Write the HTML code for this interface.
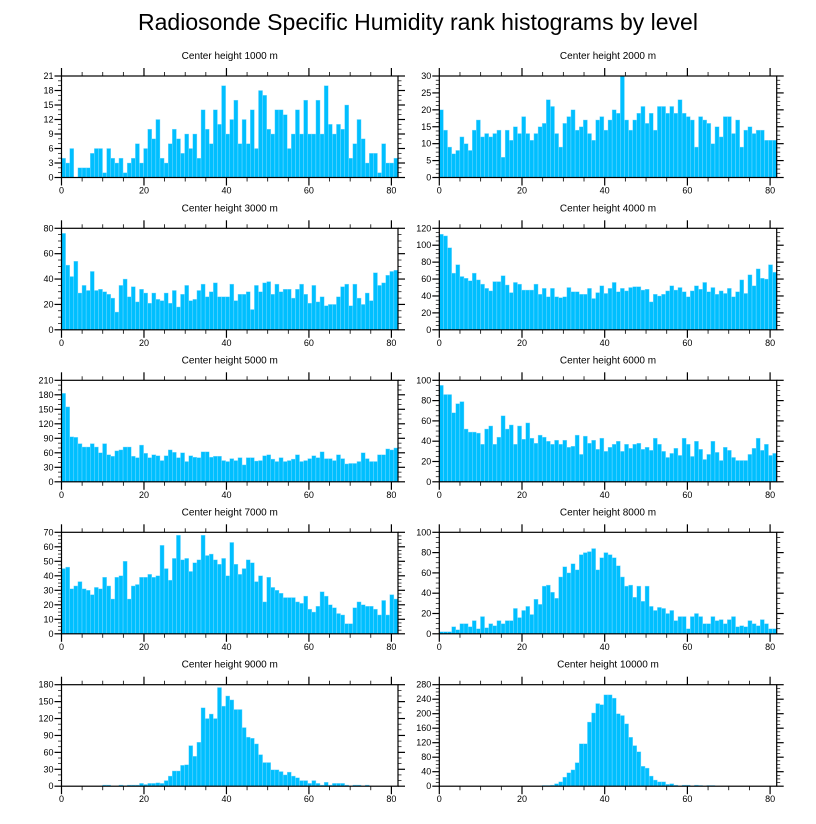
<!DOCTYPE html>
<html><head><meta charset="utf-8"><style>
html,body{margin:0;padding:0;background:#fff;}
svg{display:block;font-family:"Liberation Sans",Arial,sans-serif;}
</style></head><body>
<svg id="chart" width="816" height="824" viewBox="0 0 816 824" xmlns="http://www.w3.org/2000/svg">
<text x="418" y="30" font-size="23" text-anchor="middle" fill="#000">Radiosonde Specific Humidity rank histograms by level</text>
</svg>
<script>
const panelTitles = ["Center height 1000 m","Center height 2000 m","Center height 3000 m","Center height 4000 m","Center height 5000 m","Center height 6000 m","Center height 7000 m","Center height 8000 m","Center height 9000 m","Center height 10000 m"];
const yMaxes = [21,30,80,120,210,100,70,100,180,280];
const yStepValues = [3,5,20,20,30,20,10,20,30,40];
const xTickLabels = [0,20,40,60,80];
const h1000 = [4,3,6,0,2,2,2,5,6,6,1,6,4,3,4,1,3,4,7,3,6,10,8,12,4,3,7,10,8,5,9,6,9,4,14,10,7,14,11,19,9,12,16,7,12,7,14,6,18,17,10,9,14,14,13,6,9,14,9,16,9,9,16,9,19,11,9,11,10,15,4,7,12,8,3,5,5,1,7,3,3,4];
const h2000 = [20,14,9,7,8,12,10,8,14,17,12,13,12,13,14,6,14,11,15,13,18,13,11,13,15,16,23,21,13,9,16,18,20,14,15,17,13,11,17,18,14,17,20,19,30,17,14,17,19,21,16,19,14,21,21,19,21,19,23,19,18,17,9,18,17,16,10,15,12,18,18,13,17,9,14,15,13,14,14,11,11,11];
const h3000 = [76,51,42,54,29,35,31,46,31,32,30,28,25,14,35,40,26,34,22,32,29,21,29,24,23,29,21,31,18,28,35,23,24,31,36,26,30,37,26,26,26,36,23,28,28,30,16,35,30,37,38,28,36,30,32,32,25,32,36,28,21,35,22,26,19,20,20,26,34,36,19,36,25,20,29,23,45,35,37,43,46,47];
const h4000 = [113,111,97,67,77,63,61,58,67,59,54,49,46,57,57,64,53,44,56,54,47,47,47,54,42,49,39,49,39,38,39,50,45,45,42,42,49,37,44,52,43,49,56,45,49,46,50,51,51,47,48,33,42,40,42,46,52,47,50,45,39,46,52,48,56,45,50,42,46,43,49,39,45,59,43,65,52,72,61,60,77,68];
const h5000 = [183,155,93,92,79,72,72,79,72,60,79,56,53,64,66,72,72,53,50,76,59,50,56,54,44,54,66,61,50,60,42,54,51,50,62,62,51,53,53,44,42,48,44,50,35,50,50,43,44,54,56,47,42,50,42,44,47,56,42,44,48,54,50,62,48,48,44,56,48,37,38,38,42,60,48,42,42,56,56,68,66,70];
const h6000 = [95,86,86,68,77,79,52,49,49,48,37,52,55,37,44,65,52,56,37,55,42,58,43,38,46,44,40,37,41,37,41,34,35,46,27,45,38,41,32,43,30,34,37,40,30,37,33,37,38,32,34,31,43,37,30,24,28,33,26,43,37,25,40,32,22,27,40,29,21,34,31,24,21,21,21,27,33,43,31,37,26,28];
const h7000 = [45,46,31,33,36,31,30,27,32,31,39,33,24,39,40,50,24,33,34,39,39,41,39,40,61,45,37,52,68,51,52,43,49,51,68,54,55,51,48,52,40,63,48,41,45,51,49,36,40,22,39,32,30,28,25,25,25,22,21,26,17,15,19,29,26,20,18,14,13,7,7,18,22,20,19,19,17,13,23,13,27,24];
const h8000 = [2,2,2,7,4,10,10,7,13,5,17,6,10,8,13,10,13,13,25,16,23,27,19,34,29,47,48,41,35,56,66,60,69,63,78,80,81,84,63,75,80,78,75,67,56,47,48,36,47,32,47,27,23,26,25,20,23,13,17,17,5,17,20,17,10,10,17,13,14,10,14,17,7,8,7,13,10,8,14,10,5,5];
const h9000 = [0,0,0,0,0,0,0,0,0,0,2,2,0,0,2,1,2,2,2,5,3,5,5,6,5,10,18,27,27,37,38,72,53,78,139,120,128,120,175,142,160,153,136,136,104,87,85,75,56,42,42,29,29,26,20,25,18,15,10,10,5,10,5,2,7,2,5,5,5,2,0,2,2,0,2,0,0,0,0,0,0,0];
const h10000 = [0,0,0,0,0,0,0,0,0,0,0,0,0,0,0,0,0,0,0,0,0,0,0,0,0,2,2,3,7,12,25,37,45,65,117,117,177,202,228,225,252,252,243,200,195,172,135,112,95,55,50,28,17,12,12,5,7,3,0,3,3,0,3,2,0,2,2,0,0,0,0,0,0,0,0,0,0,0,0,0,0,0];
const seriesList = [h1000,h2000,h3000,h4000,h5000,h6000,h7000,h8000,h9000,h10000];

const NS = "http://www.w3.org/2000/svg";
const svg = document.getElementById('chart');
function mk(tag, attrs, parent){const e=document.createElementNS(NS,tag);for(const k in attrs)e.setAttribute(k,attrs[k]);parent.appendChild(e);return e;}

const colLeft=[61.5,439.3], plotW=[336.5,337.4], xMaxDom=81.6;
const rowTop=[76,228.3,380.3,532.3,684.7], plotH=101.5;

seriesList.forEach((data,p)=>{
  const col=p%2,row=Math.floor(p/2);
  const L=colLeft[col],W=plotW[col],T=rowTop[row],B=T+plotH;
  const xS=v=>L+v/xMaxDom*W;
  const yS=v=>B-v/yMaxes[p]*plotH;
  const g=mk('g',{},svg);
  
  
  const t=mk('text',{x:L+W/2,y:T-17,'font-size':10,'text-anchor':'middle',fill:'#000'},g);
  
  
  t.textContent=panelTitles[p];
  const bw=xMaxDom/data.length;
  data.forEach((v,i)=>{
    if(v<=0)return;
    const x0=xS(i*bw),x1=xS((i+1)*bw);
    const r=mk('rect',{x:x0,y:yS(v),width:Math.max(0,x1-x0),height:B-yS(v),fill:'#00bfff',stroke:'#8adcff','stroke-width':0.4},g);
    
    
  });
  const fr=mk('rect',{x:L,y:T,width:W,height:plotH,fill:'none',stroke:'#000','stroke-width':1.2},g);
  
  
  for(let v=0;v<=80;v+=5){
    const major=v%20===0, len=major?8:4, x=xS(v);
    mk('line',{x1:x,x2:x,y1:B,y2:B+len,stroke:'#000','stroke-width':major?1.2:0.8},g);
    mk('line',{x1:x,x2:x,y1:T,y2:T-len,stroke:'#000','stroke-width':major?1.2:0.8},g);
  }
  xTickLabels.forEach(v=>{
    const tl=mk('text',{x:xS(v),y:B+16,'font-size':9,'text-anchor':'middle',fill:'#000'},g);
    
    
    tl.textContent=v;
  });
  const st=yStepValues[p], minor=st/(st%3===0?3:4);
  for(let v=0;v<=yMaxes[p]+1e-9;v+=minor){
    const isMaj=Math.abs(v/st-Math.round(v/st))<1e-6, len=isMaj?7:3.5, y=yS(v);
    mk('line',{x1:L,x2:L-len,y1:y,y2:y,stroke:'#000','stroke-width':isMaj?1.2:0.7},g);
    mk('line',{x1:L+W,x2:L+W+len,y1:y,y2:y,stroke:'#000','stroke-width':isMaj?1.2:0.7},g);
  }
  for(let v=0;v<=yMaxes[p];v+=st){
    const tl=mk('text',{x:L-8,y:yS(v)+3,'font-size':9,'text-anchor':'end',fill:'#000'},g);
    
    
    tl.textContent=v;
  }
});
</script>
</body></html>
